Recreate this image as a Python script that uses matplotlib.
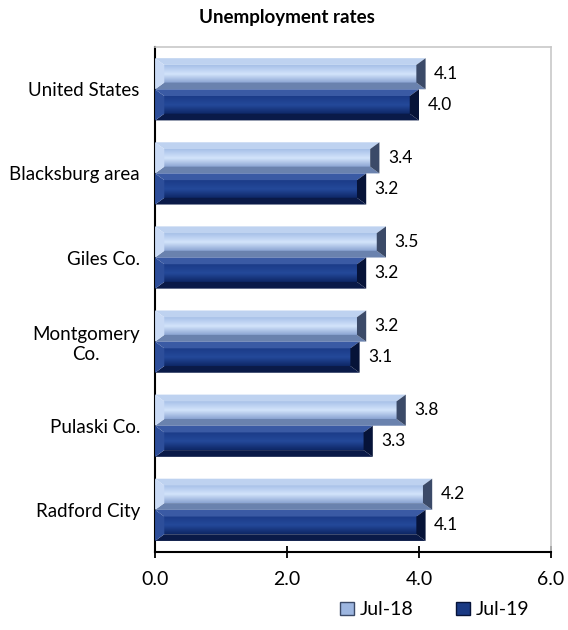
import numpy as np
import matplotlib
matplotlib.use("Agg")
import matplotlib.pyplot as plt
from matplotlib.patches import Polygon, Patch
from matplotlib.colors import LinearSegmentedColormap

plt.rcParams['font.family'] = ['Lato', 'DejaVu Sans']

# data
places = ["United States", "Blacksburg area", "Giles Co.", "Montgomery\nCo.",
          "Pulaski Co.", "Radford City"]
jul18 = [4.1, 3.4, 3.5, 3.2, 3.8, 4.2]
jul19 = [4.0, 3.2, 3.2, 3.1, 3.3, 4.1]
series_names = ["Jul-18", "Jul-19"]
xticks = [0.0, 2.0, 4.0, 6.0]

# bevel shades: face gradient (top, mid, bottom), top, bottom, left, right
styles = {
    "Jul-18": dict(face=["#a7c0e8", "#d3e4fb", "#8aa4d2"], top="#bed2f0",
                   bot="#6a82ae", left="#c9daf5", right="#3b4a68", mid="#9db6e0"),
    "Jul-19": dict(face=["#1b3b88", "#24499a", "#0e2766"], top="#3a5aa4",
                   bot="#0a1a48", left="#2d4e9a", right="#061338", mid="#1a3a84"),
}

fig = plt.figure(figsize=(5.68, 6.30), dpi=100)
ax = fig.add_axes([0.273, 0.124, 0.697, 0.801])

y = np.arange(len(places))
h = 0.37
b1 = ax.barh(y - h / 2, jul18, height=h, color="none")
b2 = ax.barh(y + h / 2, jul19, height=h, color="none")

dx, dy = 0.14, 0.08
for bars, name in [(b1, "Jul-18"), (b2, "Jul-19")]:
    st = styles[name]
    cmap = LinearSegmentedColormap.from_list(name, st["face"])
    grad = np.linspace(0, 1, 64).reshape(-1, 1)
    for p in bars.patches:
        x0, y0 = p.get_x(), p.get_y()
        w, hh = p.get_width(), p.get_height()
        x1, y1 = x0 + w, y0 + hh
        ax.imshow(grad, cmap=cmap, aspect="auto", origin="upper",
                  extent=[x0 + dx, x1 - dx, y1 - dy, y0 + dy], zorder=2)
        polys = [
            ([(x0, y0), (x1, y0), (x1 - dx, y0 + dy), (x0 + dx, y0 + dy)], st["top"]),
            ([(x0, y1), (x1, y1), (x1 - dx, y1 - dy), (x0 + dx, y1 - dy)], st["bot"]),
            ([(x0, y0), (x0 + dx, y0 + dy), (x0 + dx, y1 - dy), (x0, y1)], st["left"]),
            ([(x1, y0), (x1 - dx, y0 + dy), (x1 - dx, y1 - dy), (x1, y1)], st["right"]),
        ]
        for pts, c in polys:
            ax.add_patch(Polygon(pts, closed=True, facecolor=c, edgecolor="none", zorder=3))
        ax.text(x1 + 0.13, y0 + hh / 2, "%.1f" % w, va="center", ha="left",
                fontsize=12.5, color="black")

ax.set_xlim(0, 6)
ax.set_ylim(len(places) - 0.5, -0.5)
ax.set_xticks(xticks)
ax.set_xticklabels(["%.1f" % v for v in xticks], fontsize=14)
ax.set_yticks(y)
ax.set_yticklabels(places, fontsize=13.5, multialignment="center")
ax.tick_params(axis="y", length=0, pad=11)
ax.tick_params(axis="x", direction="inout", length=9, width=1.3, pad=9)

for s in ["top", "right"]:
    ax.spines[s].set_color("#c8c8c8")
    ax.spines[s].set_linewidth(1.2)
for s in ["left", "bottom"]:
    ax.spines[s].set_color("black")
    ax.spines[s].set_linewidth(1.5)

fig.text(0.505, 0.972, "Unemployment rates", ha="center", va="center",
         fontsize=13.5, fontweight="bold")

handles = [Patch(facecolor=styles[n]["mid"], edgecolor=styles[n]["right"], label=n)
           for n in series_names]
fig.legend(handles=handles, loc="center", bbox_to_anchor=(0.765, 0.032), ncol=2,
           frameon=False, fontsize=14, handlelength=0.7, handleheight=0.7,
           columnspacing=2.2, handletextpad=0.3)

fig.savefig("out.png", dpi=100)
